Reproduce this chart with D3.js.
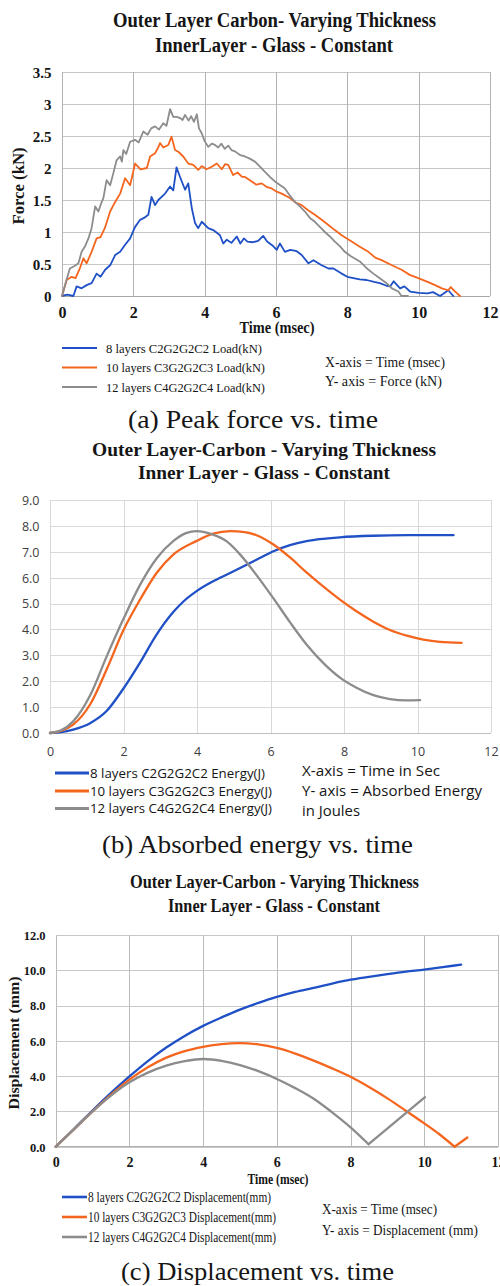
<!DOCTYPE html>
<html>
<head>
<meta charset="utf-8">
<script src="https://cdn.jsdelivr.net/npm/d3@7"></script>
<style>
  body { margin: 0; background: #fff; }
  svg { display: block; }
</style>
</head>
<body>
<svg id="fig" width="500" height="1286"></svg>
<script>
// ---------- series names ----------
const seriesLabels = ["8 layers C2G2G2C2", "10 layers C3G2G2C3", "12 layers C4G2G2C4"];
const seriesColors = ["#1f50c6", "#f4661e", "#8c8c8c"];

// ---------- (a) force [time ms, kN] ----------
const load8 = [[0,0],[0.15,0.02],[0.32,0],[0.41,0.15],[0.55,0.12],[0.69,0.17],[0.83,0.2],[0.97,0.35],[1.08,0.3],[1.21,0.41],[1.35,0.48],[1.49,0.64],[1.63,0.69],[1.77,0.8],[1.91,0.9],[2.05,1.08],[2.19,1.19],[2.3,1.22],[2.42,1.27],[2.51,1.55],[2.61,1.42],[2.7,1.5],[2.89,1.6],[3.03,1.71],[3.12,1.65],[3.21,2.01],[3.31,1.86],[3.45,1.66],[3.54,1.76],[3.64,1.37],[3.73,1.14],[3.82,1.06],[3.92,1.16],[4.1,1.06],[4.24,1.03],[4.43,0.95],[4.52,0.82],[4.62,0.88],[4.75,0.83],[4.9,0.93],[5.0,0.82],[5.1,0.9],[5.2,0.85],[5.35,0.84],[5.5,0.86],[5.64,0.94],[5.75,0.85],[5.9,0.79],[6.02,0.72],[6.11,0.82],[6.25,0.69],[6.4,0.72],[6.58,0.7],[6.72,0.64],[6.91,0.51],[7.05,0.56],[7.28,0.48],[7.47,0.43],[7.61,0.43],[7.84,0.35],[8.0,0.3],[8.17,0.28],[8.35,0.26],[8.54,0.25],[8.75,0.22],[8.91,0.2],[9.1,0.16],[9.2,0.15],[9.3,0.23],[9.48,0.12],[9.6,0.15],[9.76,0.07],[10.0,0.05],[10.25,0.04],[10.4,0.06],[10.6,0],[10.83,0.09],[10.97,0]];
const load10 = [[0,0],[0.13,0.25],[0.27,0.3],[0.38,0.28],[0.5,0.43],[0.6,0.59],[0.69,0.51],[0.83,0.69],[0.97,0.9],[1.08,0.92],[1.2,1.06],[1.35,1.32],[1.49,1.47],[1.63,1.6],[1.77,1.84],[1.91,1.73],[2.05,2.07],[2.2,1.98],[2.38,2.0],[2.47,2.18],[2.61,2.23],[2.68,2.3],[2.75,2.39],[2.84,2.32],[2.98,2.36],[3.07,2.49],[3.17,2.28],[3.27,2.25],[3.4,2.18],[3.54,2.07],[3.68,2.05],[3.82,1.97],[3.92,2.03],[4.05,1.98],[4.2,2.02],[4.34,2.07],[4.48,1.98],[4.57,2.06],[4.66,2.05],[4.8,1.89],[4.92,1.93],[5.05,1.86],[5.13,1.86],[5.32,1.79],[5.45,1.74],[5.6,1.76],[5.75,1.7],[5.88,1.68],[6.02,1.63],[6.16,1.6],[6.39,1.53],[6.55,1.46],[6.72,1.42],[6.9,1.34],[7.09,1.27],[7.28,1.19],[7.47,1.11],[7.65,1.03],[7.84,0.95],[8.12,0.85],[8.35,0.77],[8.59,0.69],[8.78,0.6],[8.96,0.56],[9.25,0.48],[9.52,0.41],[9.75,0.33],[9.99,0.28],[10.25,0.22],[10.46,0.17],[10.65,0.12],[10.83,0.09],[10.9,0.14],[11.0,0.08],[11.16,0]];
const load12 = [[0,0],[0.1,0.2],[0.22,0.43],[0.35,0.47],[0.46,0.51],[0.55,0.69],[0.65,0.78],[0.74,0.9],[0.83,1.06],[0.93,1.4],[1.02,1.32],[1.1,1.45],[1.16,1.53],[1.25,1.81],[1.35,1.73],[1.44,1.92],[1.53,2.12],[1.63,2.18],[1.68,2.1],[1.72,2.28],[1.8,2.22],[1.91,2.41],[2.05,2.44],[2.15,2.4],[2.28,2.57],[2.4,2.52],[2.5,2.62],[2.61,2.65],[2.72,2.6],[2.84,2.7],[2.93,2.66],[3.03,2.92],[3.12,2.8],[3.22,2.8],[3.31,2.78],[3.38,2.75],[3.45,2.83],[3.55,2.74],[3.62,2.81],[3.7,2.72],[3.78,2.84],[3.84,2.62],[3.92,2.54],[4.0,2.42],[4.1,2.33],[4.2,2.38],[4.29,2.36],[4.38,2.32],[4.47,2.38],[4.56,2.3],[4.66,2.35],[4.75,2.28],[4.85,2.26],[5.0,2.2],[5.13,2.18],[5.25,2.15],[5.41,2.1],[5.55,2.02],[5.69,1.94],[5.83,1.86],[5.97,1.79],[6.1,1.74],[6.25,1.68],[6.4,1.56],[6.53,1.47],[6.67,1.4],[6.81,1.32],[6.95,1.22],[7.09,1.16],[7.23,1.08],[7.37,1.0],[7.51,0.93],[7.65,0.85],[7.79,0.78],[7.93,0.69],[8.1,0.62],[8.35,0.54],[8.55,0.43],[8.73,0.35],[8.9,0.28],[9.1,0.2],[9.25,0.12],[9.43,0.07],[9.52,0],[9.7,0]];

// ---------- (b) absorbed energy [time, J] ----------
const energy8 = [[0,0],[0.3,0.03],[0.63,0.13],[1.09,0.38],[1.54,0.85],[1.99,1.7],[2.45,2.72],[2.9,3.8],[3.36,4.68],[3.63,5.08],[3.99,5.48],[4.44,5.86],[4.9,6.18],[5.35,6.5],[5.71,6.76],[6.08,7.02],[6.53,7.26],[6.98,7.41],[7.44,7.5],[7.89,7.56],[8.8,7.62],[9.71,7.64],[10.98,7.64]];
const energy10 = [[0,0],[0.3,0.08],[0.63,0.32],[1.09,1.1],[1.54,2.45],[1.99,3.95],[2.45,5.15],[2.9,6.18],[3.36,6.9],[3.99,7.42],[4.44,7.7],[4.9,7.8],[5.3,7.76],[5.62,7.64],[6.08,7.28],[6.53,6.78],[6.98,6.2],[7.44,5.65],[7.89,5.15],[8.34,4.7],[8.8,4.3],[9.25,3.98],[9.71,3.76],[10.16,3.61],[10.61,3.52],[11.2,3.48]];
const energy12 = [[0,0],[0.3,0.1],[0.63,0.45],[1.09,1.45],[1.54,2.95],[1.99,4.38],[2.45,5.72],[2.9,6.74],[3.36,7.42],[3.7,7.72],[3.99,7.8],[4.4,7.68],[4.81,7.4],[5.17,6.9],[5.62,6.1],[6.08,5.2],[6.53,4.28],[6.98,3.42],[7.44,2.7],[7.89,2.14],[8.34,1.75],[8.8,1.46],[9.25,1.31],[9.71,1.26],[10.07,1.27]];

// ---------- (c) displacement [time ms, mm] ----------
const disp8 = [[0,0],[0.5,1.02],[1,2.05],[1.5,3.05],[2,3.98],[2.5,4.85],[3,5.62],[3.5,6.28],[4,6.85],[4.5,7.33],[5,7.77],[5.5,8.15],[6,8.49],[6.5,8.77],[7,9.0],[7.5,9.25],[8,9.47],[8.5,9.63],[9,9.78],[9.5,9.92],[10,10.04],[10.5,10.18],[11,10.32]];
const disp10 = [[0,0],[0.5,1.0],[1,2.0],[1.5,2.95],[2,3.8],[2.5,4.5],[3,5.05],[3.5,5.42],[4,5.66],[4.5,5.82],[5,5.87],[5.5,5.8],[6,5.6],[6.5,5.28],[7,4.88],[7.5,4.44],[8,3.96],[8.5,3.38],[9,2.74],[9.5,2.04],[10,1.32],[10.4,0.72],[10.82,0],[11.17,0.52]];
const disp12 = [[0,0],[0.5,1.0],[1,2.0],[1.5,2.9],[2,3.65],[2.5,4.2],[3,4.6],[3.5,4.85],[4,4.97],[4.5,4.87],[5,4.63],[5.5,4.28],[6,3.84],[6.5,3.32],[7,2.72],[7.5,1.95],[8,1.1],[8.49,0.14],[10.02,2.81]];

// ---------- tick values ----------
const timeTicks = [0, 2, 4, 6, 8, 10, 12];
const forceTicks = [0, 0.5, 1, 1.5, 2, 2.5, 3, 3.5];
const energyTicks = [0, 1, 2, 3, 4, 5, 6, 7, 8, 9];
const dispTicks = [0, 2, 4, 6, 8, 10, 12];

const SERIF = '"Liberation Serif", "Times New Roman", Times, serif';
const SANS = '"Open Sans", "Noto Sans", "DejaVu Sans", sans-serif';
const svg = d3.select("#fig");

function label(str, x, y, o) {
  const t = svg.append("text")
    .attr("x", x).attr("y", y).text(str)
    .attr("font-family", o.family || SERIF)
    .attr("font-size", o.size)
    .attr("font-weight", o.weight || "normal")
    .attr("text-anchor", o.anchor || "start")
    .attr("fill", o.fill || "#151515");
  if (o.len) t.attr("textLength", o.len).attr("lengthAdjust", "spacingAndGlyphs");
  if (o.rotate) t.attr("transform", `rotate(${o.rotate},${x},${y})`);
  return t;
}

// Split a series at sharp valleys (rebounds) so each piece can be smoothed
// on its own while the turning point stays a corner.
function splitAtValleys(data) {
  const pieces = [];
  let start = 0;
  for (let i = 1; i < data.length - 1; i++) {
    if (data[i][1] < data[i - 1][1] && data[i][1] < data[i + 1][1]) {
      pieces.push(data.slice(start, i + 1));
      start = i;
    }
  }
  pieces.push(data.slice(start));
  return pieces;
}

function panel(p) {
  const x = d3.scaleLinear().domain([0, 12]).range([p.left, p.right]);
  const y = d3.scaleLinear().domain([0, p.ymax]).range([p.bottom, p.top]);
  const g = svg.append("g");

  // horizontal grid
  g.append("g").attr("transform", `translate(${p.left},0)`)
    .call(d3.axisLeft(y).tickValues(p.yTicks).tickSize(-(p.right - p.left)).tickFormat(""))
    .call(s => s.select(".domain").remove())
    .call(s => s.selectAll("line").attr("stroke", p.hGrid).attr("shape-rendering", "crispEdges"));
  // vertical grid
  g.append("g").attr("transform", `translate(0,${p.bottom})`)
    .call(d3.axisBottom(x).tickValues(timeTicks).tickSize(-(p.bottom - p.top)).tickFormat(""))
    .call(s => s.select(".domain").remove())
    .call(s => s.selectAll("line").attr("stroke", p.vGrid).attr("shape-rendering", "crispEdges"));
  if (p.axisLine) {
    g.append("line").attr("x1", p.left).attr("x2", p.right).attr("y1", y(0)).attr("y2", y(0))
      .attr("stroke", p.axisLine).attr("shape-rendering", "crispEdges");
  }

  // tick labels
  g.append("g").attr("transform", `translate(${p.yLabelX},0)`)
    .call(d3.axisLeft(y).tickValues(p.yTicks).tickSize(0).tickPadding(0).tickFormat(p.yFormat))
    .call(s => s.select(".domain").remove())
    .call(s => s.selectAll("text").attr("x", 0).attr("dy", "0.35em")
      .attr("font-family", p.tickFamily).attr("font-size", p.yTickSize)
      .attr("font-weight", p.tickWeight).attr("fill", p.tickFill));
  g.append("g").attr("transform", `translate(0,${p.xLabelY})`)
    .call(d3.axisBottom(x).tickValues(timeTicks).tickSize(0).tickPadding(0).tickFormat(d3.format("d")))
    .call(s => s.select(".domain").remove())
    .call(s => s.selectAll("text").attr("y", 0).attr("dy", null)
      .attr("font-family", p.tickFamily).attr("font-size", p.xTickSize)
      .attr("font-weight", p.tickWeight).attr("fill", p.tickFill));

  // series
  const line = d3.line().x(d => x(d[0])).y(d => y(d[1])).curve(p.curve);
  p.series.forEach((s, i) => {
    const pieces = p.splitValleys ? splitAtValleys(s) : [s];
    pieces.forEach(piece => {
      g.append("path").datum(piece).attr("d", line)
        .attr("fill", "none").attr("stroke", seriesColors[i])
        .attr("stroke-width", p.lineWidth).attr("stroke-linejoin", "round").attr("stroke-linecap", "round");
    });
  });

  // legend swatches + labels
  p.legendY.forEach((ly, i) => {
    g.append("line").attr("x1", p.legendX0).attr("x2", p.legendX1).attr("y1", ly).attr("y2", ly)
      .attr("stroke", seriesColors[i]).attr("stroke-width", p.legendWidth);
    label(seriesLabels[i] + p.legendSuffix, p.legendTextX, ly + p.legendDy,
      { family: p.legendFamily, size: p.legendSize, len: p.legendLens[i] });
  });
}

// ================= (a) Peak force vs. time =================
label("Outer Layer Carbon- Varying Thickness", 274.5, 27, { size: 20, weight: "bold", anchor: "middle", len: 323 });
label("InnerLayer - Glass - Constant", 274, 51.5, { size: 20, weight: "bold", anchor: "middle", len: 238 });
panel({
  left: 62, right: 490, top: 72, bottom: 296, ymax: 3.5,
  yTicks: forceTicks, yFormat: d => String(d),
  hGrid: "#c6c6c6", vGrid: "#b2b2b2", axisLine: "#a8a8a8",
  yLabelX: 51.5, xLabelY: 318,
  tickFamily: SERIF, tickWeight: "bold", yTickSize: 15, xTickSize: 16, tickFill: "#151515",
  series: [load8, load10, load12], curve: d3.curveLinear, lineWidth: 1.8,
  legendY: [348, 367.5, 387], legendX0: 62, legendX1: 97, legendWidth: 2,
  legendTextX: 106, legendDy: 4.5, legendFamily: SERIF, legendSize: 12.4,
  legendSuffix: " Load(kN)", legendLens: [156, 159, 159]
});
label("Time (msec)", 277, 333, { size: 16, weight: "bold", anchor: "middle", len: 75 });
label("Force (kN)", 24, 186, { size: 16, weight: "bold", anchor: "middle", rotate: -90, len: 77 });
label("X-axis = Time (msec)", 325, 367, { size: 13.6, len: 120 });
label("Y- axis = Force (kN)", 325, 385.5, { size: 13.6, len: 117 });
label("(a) Peak force vs. time", 253, 428, { size: 25, anchor: "middle", len: 250 });

// ================= (b) Absorbed energy vs. time =================
label("Outer Layer-Carbon - Varying Thickness", 264, 456, { size: 19, weight: "bold", anchor: "middle", len: 344 });
label("Inner Layer - Glass - Constant", 264, 479, { size: 19, weight: "bold", anchor: "middle", len: 252 });
panel({
  left: 50, right: 491, top: 500, bottom: 733, ymax: 9,
  yTicks: energyTicks, yFormat: d3.format(".1f"),
  hGrid: "#d9d9d9", vGrid: "#d9d9d9", axisLine: "#bfbfbf",
  yLabelX: 39.5, xLabelY: 755.5,
  tickFamily: SANS, tickWeight: "normal", yTickSize: 12.5, xTickSize: 12.5, tickFill: "#404040",
  series: [energy8, energy10, energy12], curve: d3.curveMonotoneX, lineWidth: 2.3,
  legendY: [773, 791, 808.5], legendX0: 55, legendX1: 89, legendWidth: 3,
  legendTextX: 90, legendDy: 4.5, legendFamily: SANS, legendSize: 13,
  legendSuffix: " Energy(J)", legendLens: [175, 182, 182]
});
label("X-axis = Time in Sec", 302, 775.5, { family: SANS, size: 15, len: 138 });
label("Y- axis = Absorbed Energy", 302, 795.5, { family: SANS, size: 15, len: 180 });
label("in Joules", 302, 815.5, { family: SANS, size: 15, len: 58 });
label("(b) Absorbed energy vs. time", 257.5, 853, { size: 25, anchor: "middle", len: 311 });

// ================= (c) Displacement vs. time =================
label("Outer Layer-Carbon - Varying Thickness", 274.5, 888, { size: 19, weight: "bold", anchor: "middle", len: 289 });
label("Inner Layer - Glass - Constant", 274, 912, { size: 19, weight: "bold", anchor: "middle", len: 212 });
panel({
  left: 55.7, right: 498, top: 935, bottom: 1146.7, ymax: 12,
  yTicks: dispTicks, yFormat: d3.format(".1f"),
  hGrid: "#c8c8c8", vGrid: "#bcbcbc", axisLine: "#b0b0b0",
  yLabelX: 45.5, xLabelY: 1166.5,
  tickFamily: SERIF, tickWeight: "bold", yTickSize: 12.5, xTickSize: 14, tickFill: "#151515",
  series: [disp8, disp10, disp12], curve: d3.curveMonotoneX, splitValleys: true, lineWidth: 2.3,
  legendY: [1197, 1217, 1237], legendX0: 62, legendX1: 87, legendWidth: 2.6,
  legendTextX: 88, legendDy: 5, legendFamily: SERIF, legendSize: 14,
  legendSuffix: " Displacement(mm)", legendLens: [183, 188, 188]
});
label("Time (msec)", 278, 1184, { size: 15, weight: "bold", anchor: "middle", len: 61 });
label("Displacement (mm)", 18.5, 1043, { size: 15, weight: "bold", anchor: "middle", rotate: -90, len: 133 });
label("X-axis = Time (msec)", 322, 1214, { size: 14, len: 115 });
label("Y- axis = Displacement (mm)", 322, 1235, { size: 14, len: 156 });
label("(c) Displacement vs. time", 257.5, 1280, { size: 25, anchor: "middle", len: 273 });
</script>
</body>
</html>
